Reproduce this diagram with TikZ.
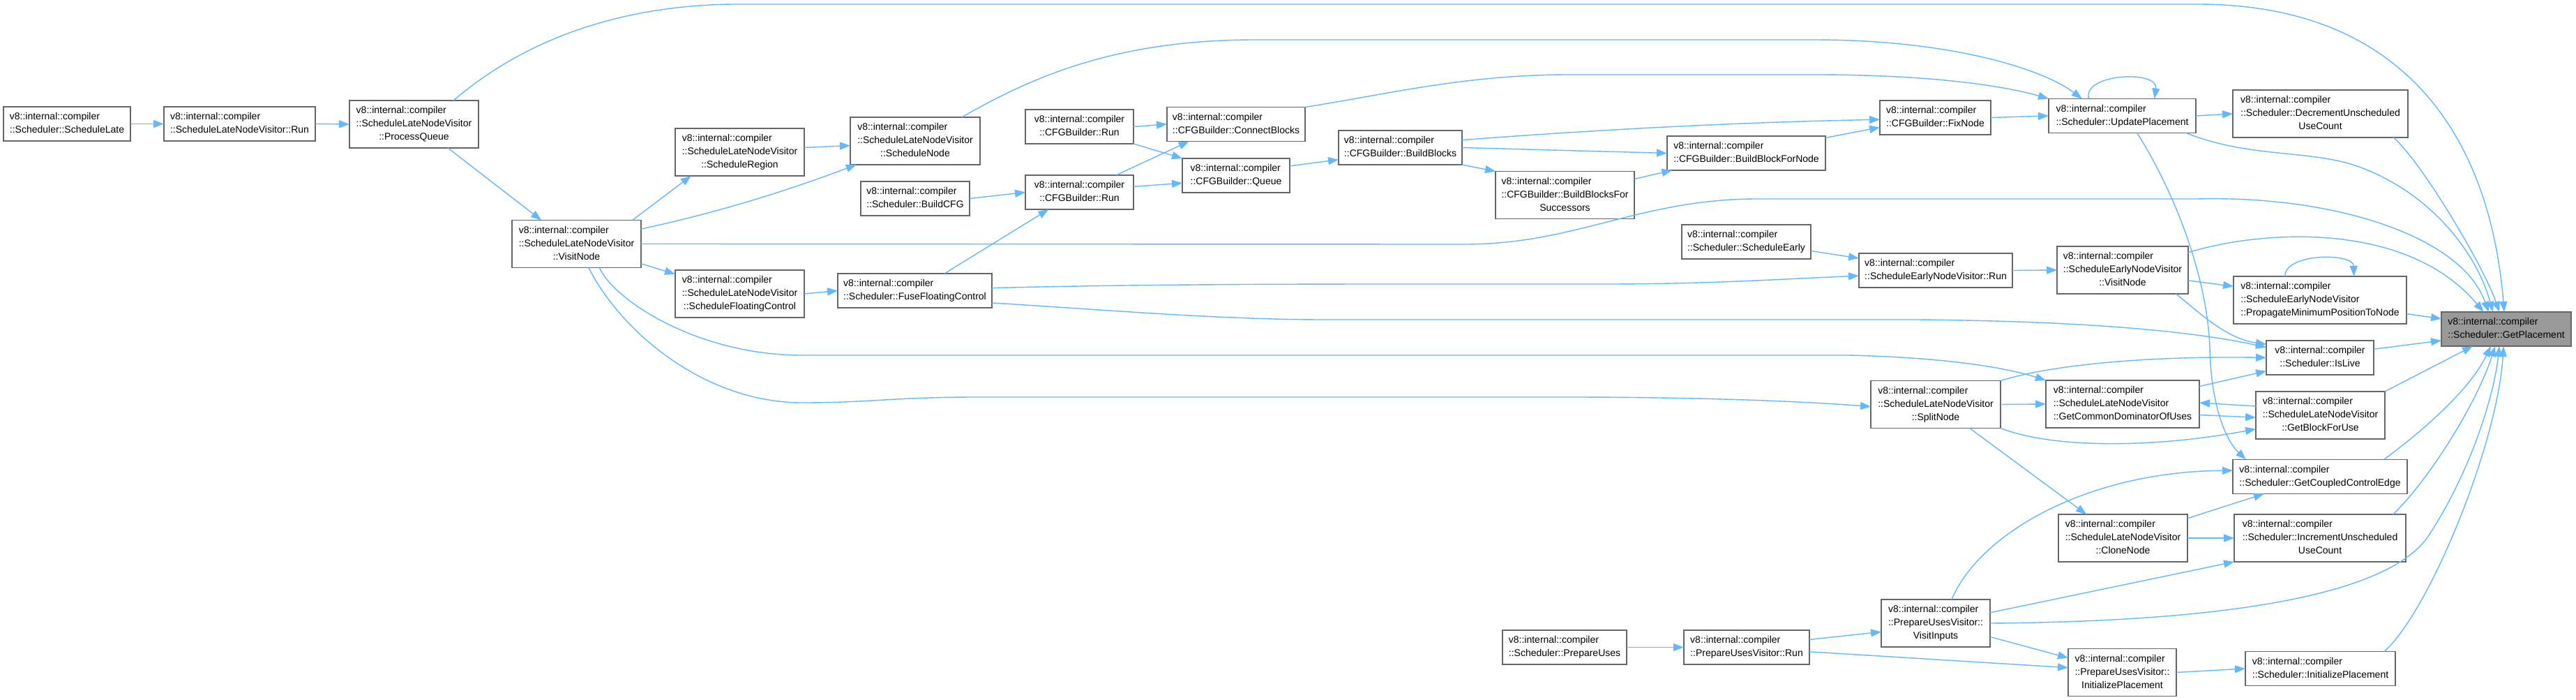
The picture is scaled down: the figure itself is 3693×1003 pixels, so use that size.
\documentclass[tikz,border=0pt]{standalone}
\usepackage{fontspec}
\setmainfont{Liberation Sans}
\usetikzlibrary{arrows.meta}

\definecolor{callblue}{HTML}{63B8FF}
\definecolor{boxgray}{HTML}{666666}
\definecolor{focusgray}{HTML}{999999}

\tikzset{
  fn/.style={draw=boxgray, fill=white, line width=1.5pt, inner sep=0pt, outer sep=0pt,
    minimum width=#1, font=\fontsize{14}{19}\selectfont},
  h2/.style={minimum height=49},
  h3/.style={minimum height=68},
  focus/.style={fill=focusgray},
  call/.style={draw=callblue, line width=1.4pt, -{Triangle[length=15pt,width=11pt]}}
}

% first line left, last line centred
\newcommand{\fnname}[1]{\begin{tabular}{@{}l@{}}v8::internal::compiler\\\multicolumn{1}{@{}c@{}}{#1}\end{tabular}}
\newcommand{\fnnamel}[2]{\begin{tabular}{@{}l@{}}v8::internal::compiler\\#1\\\multicolumn{1}{@{}c@{}}{#2}\end{tabular}}

\begin{document}
\begin{tikzpicture}[x=1pt,y=-1pt]
	%\draw[color=gray,step=50, help lines,opacity=0.3] (0,0) grid (3693,1003); %help grids
	\useasboundingbox[fill=white] (0,0) rectangle (3693,1003);

	\node[fn=182,h2] (schedLate) at (96,177.5) {\fnname{::Scheduler::ScheduleLate}};
	\node[fn=217,h2] (lateRun) at (343.5,177.5) {\fnname{::ScheduleLateNodeVisitor::Run}};
	\node[fn=185,h3] (processQueue) at (593.5,178) {\fnnamel{::ScheduleLateNodeVisitor}{::ProcessQueue}};
	\node[fn=185,h3] (lateVisit) at (826.5,349.5) {\fnnamel{::ScheduleLateNodeVisitor}{::VisitNode}};
	\node[fn=185,h3] (schedRegion) at (1060.5,218) {\fnnamel{::ScheduleLateNodeVisitor}{::ScheduleRegion}};
	\node[fn=186,h3] (schedNode) at (1312,202) {\fnnamel{::ScheduleLateNodeVisitor}{::ScheduleNode}};
	\node[fn=185,h3] (schedFloat) at (1060.5,421) {\fnnamel{::ScheduleLateNodeVisitor}{::ScheduleFloatingControl}};
	\node[fn=221,h2] (fuseFloat) at (1311.5,416.5) {\fnname{::Scheduler::FuseFloatingControl}};
	\node[fn=156,h2] (buildCFG) at (1312,284.5) {\fnname{::Scheduler::BuildCFG}};
	\node[fn=155,h2] (cfgRunA) at (1547.5,181.5) {\fnname{::CFGBuilder::Run}};
	\node[fn=155,h2] (cfgRunB) at (1547.5,275.5) {\fnname{::CFGBuilder::Run}};
	\node[fn=198,h2] (connect) at (1772,178) {\fnname{::CFGBuilder::ConnectBlocks}};
	\node[fn=154,h2] (queue) at (1772,251.5) {\fnname{::CFGBuilder::Queue}};
	\node[fn=177,h2] (buildBlocks) at (2007.5,211.5) {\fnname{::CFGBuilder::BuildBlocks}};
	\node[fn=199,h3] (buildSucc) at (2243.5,279.5) {\fnnamel{::CFGBuilder::BuildBlocksFor}{Successors}};
	\node[fn=227,h2] (buildForNode) at (2503.5,219.5) {\fnname{::CFGBuilder::BuildBlockForNode}};
	\node[fn=159,h2] (fixNode) at (2774.5,168.5) {\fnname{::CFGBuilder::FixNode}};
	\node[fn=211,h2] (update) at (3042.5,166) {\fnname{::Scheduler::UpdatePlacement}};
	\node[fn=251,h3] (decrement) at (3326.5,163) {\fnnamel{::Scheduler::DecrementUnscheduled}{UseCount}};
	\node[fn=185,h2] (schedEarly) at (2503.5,346.5) {\fnname{::Scheduler::ScheduleEarly}};
	\node[fn=220,h2] (earlyRun) at (2775,387.5) {\fnname{::ScheduleEarlyNodeVisitor::Run}};
	\node[fn=188,h3] (earlyVisit) at (3043,387) {\fnnamel{::ScheduleEarlyNodeVisitor}{::VisitNode}};
	\node[fn=248,h3] (propagate) at (3326,430) {\fnnamel{::ScheduleEarlyNodeVisitor}{::PropagateMinimumPositionToNode}};
	\node[fn=186,h2,focus] (getPlacement) at (3593,471.5) {\fnname{::Scheduler::GetPlacement}};
	\node[fn=154,h2] (isLive) at (3326,512.5) {\fnname{::Scheduler::IsLive}};
	\node[fn=186,h3] (splitNode) at (2775,579.5) {\fnnamel{::ScheduleLateNodeVisitor}{::SplitNode}};
	\node[fn=220,h3] (commonDom) at (3043,579) {\fnnamel{::ScheduleLateNodeVisitor}{::GetCommonDominatorOfUses}};
	\node[fn=185,h3] (blockForUse) at (3326.5,595) {\fnnamel{::ScheduleLateNodeVisitor}{::GetBlockForUse}};
	\node[fn=250,h2] (coupled) at (3326,683) {\fnname{::Scheduler::GetCoupledControlEdge}};
	\node[fn=185,h3] (cloneNode) at (3043.5,771) {\fnnamel{::ScheduleLateNodeVisitor}{::CloneNode}};
	\node[fn=246,h3] (increment) at (3326,771) {\fnnamel{::Scheduler::IncrementUnscheduled}{UseCount}};
	\node[fn=156,h3] (visitInputs) at (2775,893) {\fnnamel{::PrepareUsesVisitor::}{VisitInputs}};
	\node[fn=155,h3] (puvInit) at (3042.5,963.5) {\fnnamel{::PrepareUsesVisitor::}{InitializePlacement}};
	\node[fn=215,h2] (schedInit) at (3326.5,958) {\fnname{::Scheduler::InitializePlacement}};
	\node[fn=178,h2] (prepareUses) at (2243,927.5) {\fnname{::Scheduler::PrepareUses}};
	\node[fn=180,h2] (puvRun) at (2504,927.5) {\fnname{::PrepareUsesVisitor::Run}};

	% late scheduling
	\draw[call] (schedLate.east) -- (lateRun.west);
	\draw[call] (lateRun.east) -- (processQueue.west);
	\draw[call] (processQueue.-35) -- (lateVisit.146);
	\draw[call] (processQueue.31) .. controls (760,50) and (900,8) .. (1050,6) -- (3150,6) .. controls (3450,6) and (3570,200) .. (getPlacement.97);
	\draw[call] (lateVisit.23) -- (schedRegion.206);
	\draw[call] (lateVisit.13) .. controls (1050,300) and (1150,265) .. (schedNode.202);
	\draw[call] (schedRegion.4) -- (schedNode.184);
	\draw[call] (lateVisit.-17) -- (schedFloat.163);
	\draw[call] (schedFloat.east) -- (fuseFloat.west);
	\draw[call] (schedNode.27) .. controls (1480,110) and (1600,57) .. (1800,57) -- (2600,57) .. controls (2800,57) and (2930,100) .. (update.157);
	\draw[call] (lateVisit.east) -- (2100,350) .. controls (2260,350) and (2350,285) .. (2520,285) -- (3150,285) .. controls (3350,280) and (3530,340) .. (getPlacement.136);
	\draw[call] (lateVisit.-46) .. controls (880,430) and (1000,509) .. (1150,509) -- (2650,509) .. controls (2780,512) and (2870,525) .. (commonDom.north west);
	\draw[call] (lateVisit.-63) .. controls (890,475) and (1010,577) .. (1150,577) .. controls (1250,577) and (1280,569) .. (1400,569) -- (2250,569) .. controls (2450,569) and (2600,576) .. (splitNode.182);

	% control flow graph
	\draw[call] (buildCFG.east) -- (cfgRunB.west);
	\draw[call] (fuseFloat.30) -- (cfgRunB.209);
	\draw[call] (cfgRunA.east) -- (connect.west);
	\draw[call] (cfgRunA.south east) -- (queue.north west);
	\draw[call] (cfgRunB.25) -- (connect.200);
	\draw[call] (cfgRunB.6) -- (queue.188);
	\draw[call] (connect.north east) .. controls (1990,135) and (2100,107) .. (2250,107) -- (2600,107) .. controls (2780,107) and (2880,125) .. (update.north west);
	\draw[call] (queue.10) -- (buildBlocks.191);
	\draw[call] (buildBlocks.7) .. controls (2300,185) and (2500,175) .. (fixNode.182);
	\draw[call] (buildBlocks.east) -- (buildForNode.west);
	\draw[call] (buildBlocks.south east) -- (buildSucc.north west);
	\draw[call] (buildSucc.13) -- (buildForNode.193);
	\draw[call] (buildForNode.11) -- (fixNode.190);
	\draw[call] (fixNode.east) -- (update.west);
	\draw[call] (update.153) .. controls (2985,105) and (3095,100) .. (update.28);
	\draw[call] (update.east) -- (decrement.west);
	\draw[call] (update.-15) .. controls (3220,225) and (3300,215) .. (3370,235) .. controls (3480,270) and (3550,360) .. (getPlacement.128);
	\draw[call] (update.-49) .. controls (3120,280) and (3165,400) .. (3168,500) .. controls (3170,580) and (3190,630) .. (coupled.167);
	\draw[call] (decrement.-18) .. controls (3470,230) and (3560,380) .. (getPlacement.112);

	% early scheduling
	\draw[call] (schedEarly.-8) -- (earlyRun.171);
	\draw[call] (fuseFloat.2) .. controls (1600,408) and (1800,407) .. (2000,407) -- (2300,407) .. controls (2450,407) and (2550,400) .. (earlyRun.184);
	\draw[call] (fuseFloat.-9) .. controls (1600,445) and (1750,458) .. (1900,458) -- (2750,458) .. controls (2950,460) and (3120,470) .. (isLive.169);
	\draw[call] (earlyRun.east) -- (earlyVisit.west);
	\draw[call] (earlyVisit.-9) -- (propagate.171);
	\draw[call] (earlyVisit.-24) .. controls (3150,445) and (3190,485) .. (isLive.166);
	\draw[call] (earlyVisit.15) .. controls (3240,330) and (3450,315) .. (getPlacement.143);
	\draw[call] (propagate.146) .. controls (3276,362) and (3374,362) .. (propagate.35);
	\draw[call] (propagate.-9) -- (getPlacement.171);
	\draw[call] (isLive.9) -- (getPlacement.190);

	% split and clone
	\draw[call] (splitNode.north east) .. controls (2950,520) and (3100,510) .. (isLive.west);
	\draw[call] (splitNode.east) -- (commonDom.west);
	\draw[call] (splitNode.south east) .. controls (2950,645) and (3100,640) .. (blockForUse.192);
	\draw[call] (splitNode.-35) -- (cloneNode.147);
	\draw[call] (commonDom.13) -- (isLive.194);
	\draw[call] (commonDom.-8) -- (blockForUse.182);
	\draw[call] (blockForUse.172) -- (commonDom.1);
	\draw[call] (blockForUse.north east) -- (getPlacement.-153);
	\draw[call] (coupled.15) .. controls (3470,620) and (3540,560) .. (getPlacement.-132);
	\draw[call] (cloneNode.17) -- (coupled.197);
	\draw[call] (cloneNode.east) -- (increment.west);
	\draw[call] (increment.18) .. controls (3480,690) and (3550,580) .. (getPlacement.-123);

	% prepare uses
	\draw[call] (prepareUses.east) -- (puvRun.west);
	\draw[call] (puvRun.7) -- (visitInputs.189);
	\draw[call] (puvRun.-4) -- (puvInit.175);
	\draw[call] (visitInputs.56) .. controls (2840,760) and (3000,675) .. (coupled.176);
	\draw[call] (visitInputs.11) -- (increment.south west);
	\draw[call] (visitInputs.east) .. controls (3250,890) and (3430,840) .. (3480,770) .. controls (3540,680) and (3575,570) .. (getPlacement.-112);
	\draw[call] (visitInputs.-14) -- (puvInit.165);
	\draw[call] (puvInit.east) -- (schedInit.west);
	\draw[call] (schedInit.15) .. controls (3480,880) and (3580,640) .. (getPlacement.-99);
\end{tikzpicture}
\end{document}
